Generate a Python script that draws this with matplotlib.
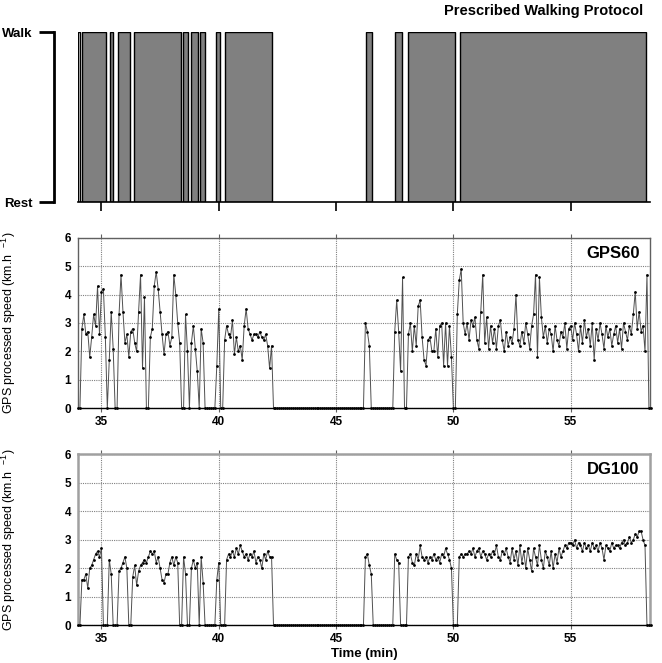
#!/usr/bin/env python3

import numpy as np
from matplotlib import pyplot as plt

plt.rcParams["font.family"] = ["Liberation Sans", "DejaVu Sans"]
plt.rcParams["mathtext.default"] = "regular"

# sampling of the speed traces: one value every 5 s, starting at minute 34
T0 = 34.0
DT = 5 / 60.

# prescribed walking bouts (start, end) in minutes
WALK_START = [34.00, 34.17, 35.37, 35.72, 36.39, 38.49, 38.83, 39.20, 39.90,
              40.28, 46.26, 47.51, 48.05, 50.27]
WALK_END = [34.08, 35.20, 35.50, 36.22, 38.41, 38.71, 39.13, 39.41, 40.04,
            42.29, 46.53, 47.80, 50.07, 58.23]

# GPS60 processed speed (km/h), one row per minute (34 ... 58)
gps60 = [
    0, 0, 2.8, 3.3, 2.6, 2.7, 1.8, 2.5, 3.3, 2.9, 4.3, 2.6,
    4.1, 4.2, 2.5, 0, 1.7, 3.4, 2.1, 0, 0, 3.3, 4.7, 3.4,
    2.3, 2.6, 1.8, 2.7, 2.8, 2.3, 2.0, 3.4, 4.7, 1.4, 3.9, 0,
    0, 2.5, 2.8, 4.3, 4.8, 4.2, 3.4, 2.6, 1.9, 2.6, 2.7, 2.2,
    2.5, 4.7, 4.0, 3.0, 2.3, 0, 0, 3.3, 2.0, 0, 2.3, 2.9,
    2.1, 1.3, 0, 2.8, 2.3, 0, 0, 0, 0, 0, 0, 1.5,
    3.5, 0, 0, 2.4, 2.9, 2.6, 2.5, 3.1, 1.9, 2.5, 2.0, 2.2,
    1.7, 2.9, 3.5, 2.8, 2.6, 2.4, 2.6, 2.6, 2.5, 2.7, 2.5, 2.4,
    2.6, 2.2, 1.4, 2.2, 0, 0, 0, 0, 0, 0, 0, 0,
    0, 0, 0, 0, 0, 0, 0, 0, 0, 0, 0, 0,
    0, 0, 0, 0, 0, 0, 0, 0, 0, 0, 0, 0,
    0, 0, 0, 0, 0, 0, 0, 0, 0, 0, 0, 0,
    0, 0, 0, 3.0, 2.7, 2.2, 0, 0, 0, 0, 0, 0,
    0, 0, 0, 0, 0, 0, 2.7, 3.8, 2.7, 1.3, 4.6, 0,
    0, 2.6, 3.0, 2.0, 2.9, 2.2, 3.6, 3.8, 2.5, 1.7, 1.5, 2.4,
    2.5, 2.0, 2.0, 2.8, 1.8, 2.9, 3.0, 1.5, 3.0, 1.5, 2.9, 1.8,
    0, 0, 3.3, 4.5, 4.9, 3.0, 2.6, 3.0, 2.4, 3.1, 2.9, 3.2,
    2.4, 2.1, 3.4, 4.7, 2.3, 3.2, 2.1, 2.9, 2.3, 2.8, 2.1, 2.9,
    3.1, 2.4, 2.0, 2.7, 2.2, 2.5, 2.3, 2.8, 4.0, 2.4, 2.2, 2.7,
    2.3, 3.0, 2.6, 2.1, 2.9, 3.3, 4.7, 1.8, 4.6, 3.2, 2.5, 2.9,
    2.3, 2.8, 2.6, 2.0, 2.9, 2.4, 2.2, 2.7, 2.5, 3.0, 2.1, 2.8,
    2.9, 2.4, 3.0, 2.6, 2.0, 2.9, 2.3, 3.1, 2.5, 2.8, 2.2, 3.0,
    1.7, 2.8, 2.4, 3.0, 2.6, 2.1, 2.9, 2.5, 2.8, 2.2, 2.6, 2.9,
    2.3, 2.8, 2.1, 3.0, 2.7, 2.4, 2.9, 2.6, 3.3, 4.1, 2.8, 3.4,
    2.7, 2.9, 2.0, 4.7, 0, 0,
]

# DG100 processed speed (km/h), same sampling
dg100 = [
    0, 0, 1.6, 1.6, 1.8, 1.3, 2.0, 2.1, 2.3, 2.5, 2.6, 2.4,
    2.7, 0, 0, 0, 2.3, 1.8, 0, 0, 0, 1.9, 2.0, 2.2,
    2.4, 2.0, 0, 0, 1.7, 2.1, 1.4, 1.9, 2.1, 2.2, 2.3, 2.2,
    2.4, 2.6, 2.5, 2.6, 2.2, 2.4, 2.0, 1.6, 1.5, 1.8, 1.8, 2.2,
    2.4, 2.1, 2.4, 2.2, 0, 0, 2.4, 1.8, 0, 0, 2.0, 2.3,
    2.0, 2.2, 0, 2.4, 1.5, 0, 0, 0, 0, 0, 0, 1.6,
    2.2, 0, 0, 0, 2.3, 2.5, 2.4, 2.6, 2.4, 2.7, 2.5, 2.8,
    2.6, 2.4, 2.5, 2.3, 2.5, 2.4, 2.6, 2.2, 2.4, 2.3, 2.0, 2.5,
    2.3, 2.6, 2.4, 2.4, 0, 0, 0, 0, 0, 0, 0, 0,
    0, 0, 0, 0, 0, 0, 0, 0, 0, 0, 0, 0,
    0, 0, 0, 0, 0, 0, 0, 0, 0, 0, 0, 0,
    0, 0, 0, 0, 0, 0, 0, 0, 0, 0, 0, 0,
    0, 0, 0, 2.4, 2.5, 2.1, 1.8, 0, 0, 0, 0, 0,
    0, 0, 0, 0, 0, 0, 2.5, 2.3, 2.2, 0, 0, 0,
    0, 2.4, 2.5, 2.2, 2.1, 2.5, 2.3, 2.8, 2.4, 2.3, 2.4, 2.2,
    2.4, 2.3, 2.5, 2.3, 2.4, 2.2, 2.5, 2.4, 2.7, 2.5, 2.3, 2.0,
    0, 0, 0, 2.4, 2.5, 2.4, 2.5, 2.5, 2.6, 2.5, 2.7, 2.4,
    2.6, 2.7, 2.4, 2.6, 2.5, 2.3, 2.5, 2.4, 2.6, 2.5, 2.8, 2.4,
    2.3, 2.6, 2.5, 2.7, 2.4, 2.2, 2.7, 2.3, 2.6, 2.1, 2.8, 2.2,
    2.6, 2.0, 2.7, 2.3, 1.9, 2.7, 2.4, 2.1, 2.8, 2.3, 2.0, 2.6,
    2.4, 2.1, 2.6, 2.0, 2.5, 2.2, 2.7, 2.4, 2.6, 2.8, 2.7, 2.9,
    2.9, 2.8, 3.0, 2.7, 2.9, 2.8, 2.6, 2.9, 2.7, 2.8, 2.6, 2.9,
    2.7, 2.8, 2.6, 2.9, 2.7, 2.3, 2.8, 2.7, 2.6, 2.9, 2.7, 2.8,
    2.8, 2.7, 2.9, 3.0, 2.8, 2.9, 3.1, 2.9, 3.0, 3.2, 3.1, 3.3,
    3.3, 3.0, 2.8, 0, 0, 0,
]

XLIM = (34.0, 58.38)
XTICKS = [35, 40, 45, 50, 55]

fig = plt.figure(figsize=(6.62, 6.63), dpi=100)

# ---- top: prescribed protocol ----
ax0 = fig.add_axes([0.1178, 0.6953, 0.8641, 0.2564])
starts = np.array(WALK_START)
widths = np.array(WALK_END) - starts
# the very first, tiny bout shows up as an open box in the original
faces = ["white"] + ["#808080"] * (len(starts) - 1)
ax0.bar(starts, np.ones_like(starts), width=widths, align="edge", bottom=0,
        color=faces, edgecolor="black", linewidth=1.0)
ax0.set_xlim(*XLIM)
ax0.set_ylim(0, 1)
for s in ["top", "right"]:
    ax0.spines[s].set_visible(False)
ax0.spines["left"].set_position(("outward", 17))
ax0.spines["left"].set_linewidth(2)
ax0.spines["bottom"].set_linewidth(1.2)
ax0.set_yticks([0, 1])
ax0.set_yticklabels(["Rest", "Walk"], fontsize=9.5, fontweight="bold")
ax0.tick_params(axis="y", length=11, width=2, pad=5)
ax0.set_xticks(XTICKS)
ax0.set_xticklabels([])
ax0.tick_params(axis="x", length=6.5, width=1.2)
fig.text(0.971, 0.984, "Prescribed Walking Protocol", ha="right",
         va="center", fontsize=10.5, fontweight="bold")


def speed_panel(ax, speed, name, frame_color, frame_lw):
    t = T0 + np.arange(len(speed)) * DT
    ax.plot(t, speed, "-", color="#505050", lw=0.7, zorder=3)
    # markers not clipped, so the resting stretches look like a thick bar at 0
    ax.plot(t, speed, "o", color="black", ms=2.0, mew=0, zorder=4,
            clip_on=False)
    ax.set_xlim(*XLIM)
    ax.set_ylim(0, 6)
    ax.set_xticks(XTICKS)
    ax.set_yticks(range(0, 7))
    ax.grid(True, color="#808080", ls=(0, (1, 1)), lw=0.8)
    ax.set_axisbelow(True)
    for s in ["top", "left", "right"]:
        ax.spines[s].set_color(frame_color)
        ax.spines[s].set_linewidth(frame_lw)
    ax.spines["bottom"].set_color("black")
    ax.spines["bottom"].set_linewidth(1.0)
    ax.tick_params(axis="x", top=True, direction="out", length=3,
                   color="#606060", pad=2.5)
    ax.tick_params(axis="y", length=0, pad=5)
    for lab in ax.get_xticklabels() + ax.get_yticklabels():
        lab.set_fontsize(8.5)
        lab.set_fontweight("bold")
    ax.set_ylabel("GPS processed speed (km.h  $^{-1}$)", fontsize=9)
    ax.yaxis.set_label_coords(-0.105, 0.5)
    ax.text(0.982, 0.91, name, transform=ax.transAxes, ha="right",
            va="center", fontsize=12, fontweight="bold")


ax1 = fig.add_axes([0.1178, 0.3842, 0.8641, 0.2573])
speed_panel(ax1, gps60, "GPS60", "#606060", 1.0)

ax2 = fig.add_axes([0.1178, 0.0569, 0.8641, 0.2579])
speed_panel(ax2, dg100, "DG100", "#a0a0a0", 1.8)
ax2.set_xlabel("Time (min)", fontsize=9.5, fontweight="bold", labelpad=2)

plt.savefig("out.png", dpi=100)
